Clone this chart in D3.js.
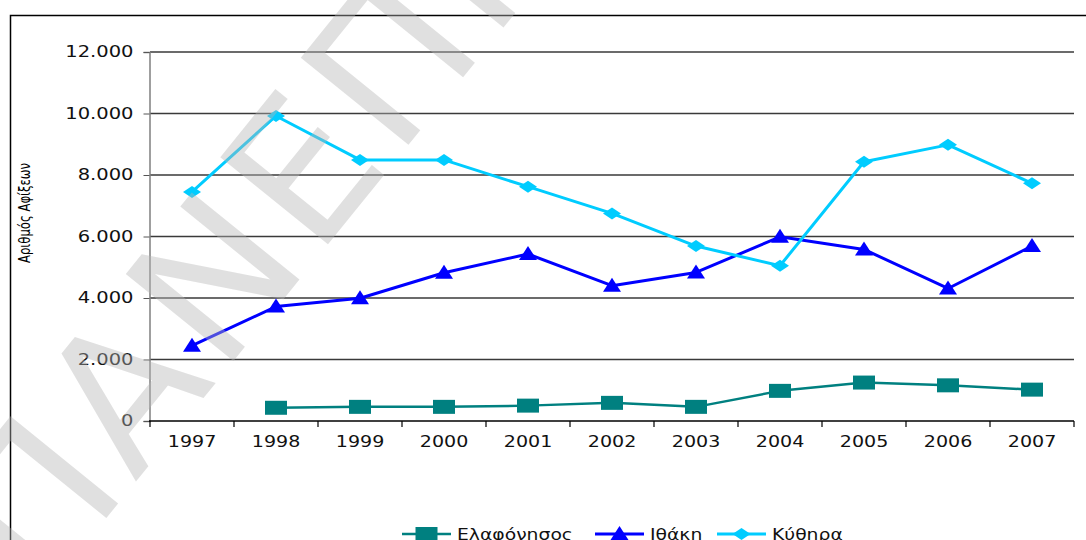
<!DOCTYPE html>
<html>
<head>
<meta charset="utf-8">
<script src="https://cdn.jsdelivr.net/npm/d3@7"></script>
<style>
  body { margin: 0; background: #fff; }
  svg { display: block; }
  text { font-family: "DejaVu Sans", Verdana, sans-serif; }
</style>
</head>
<body>
<svg id="chart" width="1086" height="540"></svg>
<script>
// data
const years = ["1997", "1998", "1999", "2000", "2001", "2002", "2003", "2004", "2005", "2006", "2007"];
const elafonisos = [null, 430, 460, 460, 500, 590, 460, 980, 1250, 1160, 1020];
const ithaki = [2450, 3720, 3990, 4820, 5430, 4400, 4830, 5990, 5580, 4310, 5690];
const kythira = [7450, 9920, 8490, 8490, 7620, 6750, 5690, 5050, 8430, 8980, 7730];
const yTicks = [0, 2000, 4000, 6000, 8000, 10000, 12000];
const seriesNames = ["Ελαφόνησος", "Ιθάκη", "Κύθηρα"];
const yTitle = "Αριθμός Αφίξεων";
const watermark = "ΠΑΝΕΠΙΣΤΗΜΙΟ";

const width = 1086, height = 540;
const margin = {left: 150, right: 12, top: 52, bottom: 119};

const svg = d3.select("#chart");

// frame
svg.append("rect")
  .attr("x", 10.5).attr("y", 15.5)
  .attr("width", 1100).attr("height", 600)
  .attr("fill", "none")
  .attr("stroke", "#000")
  .attr("stroke-width", 1.5);

let x = d3.scaleBand()
  .domain(years)
  .range([margin.left, width - margin.right]);

let y = d3.scaleLinear()
  .domain([0, 12000])
  .range([height - margin.bottom, margin.top]);

const fmt = d => d3.format(",")(d).replace(/,/g, ".");

// stretch text a bit wider like the original
function widen(sel, k) {
  sel.each(function() {
    let w = this.getComputedTextLength();
    d3.select(this).attr("textLength", w * k).attr("lengthAdjust", "spacingAndGlyphs");
  });
}

// gridlines
svg.append("g")
  .selectAll("line")
  .data(yTicks.filter(d => d > 0))
  .join("line")
  .attr("x1", margin.left)
  .attr("x2", width - margin.right)
  .attr("y1", d => y(d))
  .attr("y2", d => y(d))
  .attr("stroke", "#3a3a3a")
  .attr("stroke-width", 1.5);

// y axis
let yAxis = svg.append("g")
  .attr("transform", `translate(${margin.left - 0.5},0)`)
  .call(d3.axisLeft(y).tickValues(yTicks).tickFormat(fmt).tickSize(6).tickPadding(10));
yAxis.select(".domain").attr("stroke", "#808080").attr("stroke-width", 1.5);
yAxis.selectAll(".tick line").attr("stroke", "#555");
yAxis.selectAll(".tick text")
  .attr("font-size", 15)
  .attr("font-family", "DejaVu Sans")
  .attr("fill", "#111")
  .call(widen, 1.3);

// x axis
let xAxis = svg.append("g")
  .attr("transform", `translate(0,${y(0)})`)
  .call(d3.axisBottom(x).tickSize(0).tickPadding(0));
xAxis.select(".domain").remove();
xAxis.selectAll(".tick text")
  .attr("font-size", 15)
  .attr("font-family", "DejaVu Sans")
  .attr("fill", "#111")
  .attr("y", 26)
  .attr("dy", 0)
  .call(widen, 1.27);

svg.append("line")
  .attr("x1", margin.left - 1)
  .attr("x2", width - margin.right)
  .attr("y1", y(0))
  .attr("y2", y(0))
  .attr("stroke", "#000")
  .attr("stroke-width", 1.5);

// tick marks between categories
let bounds = years.map(d => x(d)).concat([x(years[years.length - 1]) + x.bandwidth()]);
svg.append("g")
  .selectAll("line")
  .data(bounds)
  .join("line")
  .attr("x1", d => d)
  .attr("x2", d => d)
  .attr("y1", y(0))
  .attr("y2", y(0) + 6)
  .attr("stroke", "#000")
  .attr("stroke-width", 1.2);

// y title (squeezed, like the original)
svg.append("text")
  .attr("transform", `translate(30,213) rotate(-90)`)
  .attr("text-anchor", "middle")
  .attr("font-size", 16)
  .attr("font-family", "Liberation Sans")
  .attr("fill", "#000")
  .attr("textLength", 100)
  .attr("lengthAdjust", "spacingAndGlyphs")
  .text(yTitle);

// marker shapes
const square = "M-11,-7H11V7H-11Z";
const triangle = "M0,-8L9,6H-9Z";
const diamond = "M0,-6L9,0L0,6L-9,0Z";

const series = [
  {name: seriesNames[0], values: elafonisos, color: "#008080", width: 2.5, marker: square},
  {name: seriesNames[1], values: ithaki, color: "#0000ff", width: 3, marker: triangle},
  {name: seriesNames[2], values: kythira, color: "#00ccff", width: 3, marker: diamond}
];

let line = d3.line()
  .defined(d => d.v !== null)
  .x(d => x(d.year) + x.bandwidth() / 2)
  .y(d => y(d.v));

series.forEach(s => {
  let pts = years.map((yr, i) => ({year: yr, v: s.values[i]}));
  svg.append("path")
    .datum(pts)
    .attr("d", line)
    .attr("fill", "none")
    .attr("stroke", s.color)
    .attr("stroke-width", s.width)
    .attr("stroke-linejoin", "round");
  svg.append("g")
    .selectAll("path")
    .data(pts.filter(d => d.v !== null))
    .join("path")
    .attr("d", s.marker)
    .attr("transform", d => `translate(${x(d.year) + x.bandwidth() / 2},${y(d.v)})`)
    .attr("fill", s.color);
});

// legend
const legendX = [402, 595, 717];
const legendY = 534;
let leg = svg.append("g")
  .selectAll("g")
  .data(series)
  .join("g")
  .attr("transform", (d, i) => `translate(${legendX[i]},${legendY})`);
leg.append("line")
  .attr("x1", 0).attr("x2", 49)
  .attr("y1", 0).attr("y2", 0)
  .attr("stroke", d => d.color)
  .attr("stroke-width", d => d.width);
leg.append("path")
  .attr("d", d => d.marker)
  .attr("transform", "translate(24.5,0)")
  .attr("fill", d => d.color);
leg.append("text")
  .attr("x", 55)
  .attr("y", 6)
  .attr("font-size", 15)
  .attr("fill", "#111")
  .text(d => d.name)
  .call(widen, 1.25);

// watermark laid over the chart, see-through
svg.append("text")
  .attr("transform", "translate(40,600) rotate(-51)")
  .attr("font-size", 190)
  .attr("letter-spacing", 8)
  .attr("fill", "#b4b4b4")
  .attr("fill-opacity", 0.42)
  .text(watermark);
</script>
</body>
</html>
